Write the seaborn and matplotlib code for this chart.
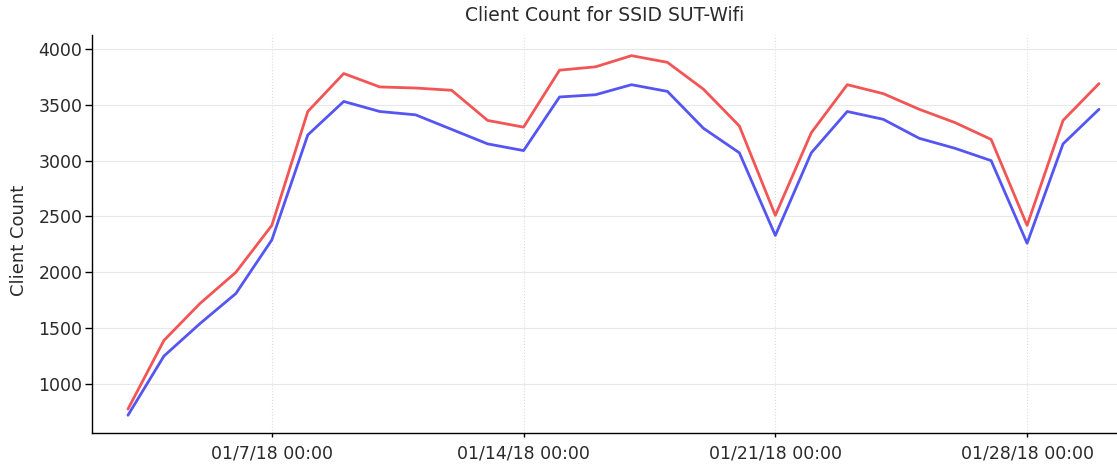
import matplotlib
matplotlib.use("Agg")
import matplotlib.pyplot as plt
import matplotlib.dates as mdates
import pandas as pd
import seaborn as sns

# Daily client counts, 01/3/18 .. 01/30/18
DAYS = pd.date_range("2018-01-03", "2018-01-30", freq="D")
TOTAL_COUNT = [775, 1390, 1720, 2000, 2420, 3440, 3780, 3660, 3650, 3630,
               3360, 3300, 3810, 3840, 3940, 3880, 3640, 3310, 2510, 3250,
               3680, 3600, 3460, 3340, 3190, 2420, 3360, 3690]
UNIQUE_COUNT = [720, 1250, 1540, 1810, 2290, 3230, 3530, 3440, 3410, 3280,
                3150, 3090, 3570, 3590, 3680, 3620, 3290, 3070, 2330, 3070,
                3440, 3370, 3200, 3110, 3000, 2260, 3150, 3460]
SERIES_NAMES = ["Total", "Unique"]
COLORS = ["#f25555", "#5555f2"]
Y_TICKS = [1000, 1500, 2000, 2500, 3000, 3500, 4000]
X_TICKS = ["2018-01-07", "2018-01-14", "2018-01-21", "2018-01-28"]

df = pd.DataFrame({"Time": DAYS, SERIES_NAMES[0]: TOTAL_COUNT, SERIES_NAMES[1]: UNIQUE_COUNT})
df = df.melt("Time", var_name="Series", value_name="Client Count")

sns.set_style("white")
plt.rcParams["font.family"] = ["DejaVu Sans"]

fig = plt.figure(figsize=(11.17, 4.66), dpi=100)
ax = fig.add_axes([92 / 1117, 1 - 433 / 466, (1117 - 92) / 1117, (433 - 35) / 466])

sns.lineplot(data=df, x="Time", y="Client Count", hue="Series", palette=COLORS,
             linewidth=2, legend=False, ax=ax)

ax.set_xlim(pd.Timestamp("2018-01-02"), pd.Timestamp("2018-01-30 12:00"))
ax.set_ylim(561, 4125)
ax.set_yticks(Y_TICKS)
ax.set_xticks(pd.to_datetime(X_TICKS))
ax.xaxis.set_major_formatter(mdates.DateFormatter("%m/%-d/%y %H:%M"))

ax.grid(axis="y", color="#e8e8e8", linewidth=0.8)
ax.grid(axis="x", color="#dddddd", linewidth=0.8, linestyle=":")
for side in ["top", "right"]:
    ax.spines[side].set_visible(False)
for side in ["left", "bottom"]:
    ax.spines[side].set_color("black")
    ax.spines[side].set_linewidth(1)
ax.tick_params(axis="y", length=5, width=1, color="black", pad=2,
               labelsize=12.5, labelcolor="#2a2a2a", left=True)
ax.tick_params(axis="x", length=3, width=1, color="black", pad=5,
               labelsize=12.5, labelcolor="#2a2a2a", bottom=True)
ax.set_xlabel("")
ax.set_ylabel("Client Count", fontsize=13, color="#2a2a2a")
ax.yaxis.set_label_coords(-0.062, 0.485)
ax.set_title("Client Count for SSID SUT-Wifi", fontsize=13.5, color="#2a2a2a", pad=10)

fig.savefig("out.png", dpi=100)
